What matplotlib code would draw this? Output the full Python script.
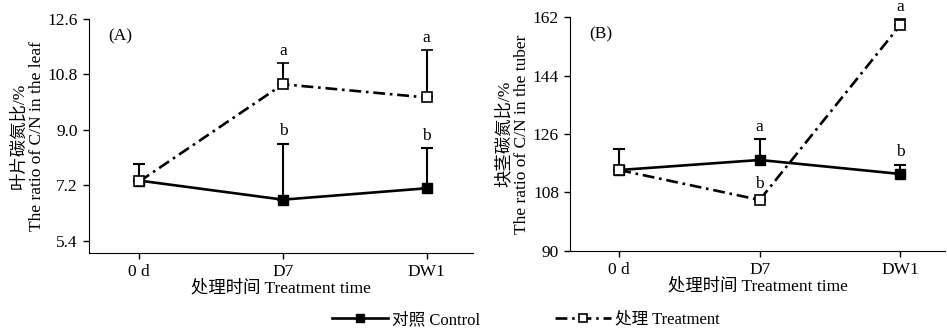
import matplotlib.pyplot as plt
import numpy as np

plt.rcParams['font.family'] = ['Liberation Serif', 'Noto Sans CJK SC']
plt.rcParams['axes.unicode_minus'] = False

days = ['0 d', 'D7', 'DW1']

# (A) leaf C/N
leaf_ctrl = [7.35, 6.73, 7.10]
leaf_ctrl_err = [0.54, 1.82, 1.31]
leaf_trt = [7.32, 10.48, 10.05]
leaf_trt_err = [0.0, 0.68, 1.55]
leaf_ctrl_lbl = ['', 'b', 'b']
leaf_trt_lbl = ['', 'a', 'a']

# (B) tuber C/N
tuber_ctrl = [114.9, 118.0, 113.7]
tuber_ctrl_err = [6.4, 6.5, 2.9]
tuber_trt = [114.9, 105.7, 159.5]
tuber_trt_err = [0.0, 0.0, 1.8]
tuber_ctrl_lbl = ['', 'a', 'b']
tuber_trt_lbl = ['', 'b', 'a']

fig = plt.figure(figsize=(9.47, 3.28), dpi=100)
axA = fig.add_axes([0.094, 0.229, 0.405, 0.713])
axB = fig.add_axes([0.602, 0.235, 0.396, 0.713])

x = np.arange(len(days))
dash = (0, (4.5, 1.8, 1, 1.8))


def panel(ax, ctrl, cerr, trt, terr, clbl, tlbl, ylim, yticks, ylab, tag):
    ax.errorbar(x, ctrl, yerr=[np.zeros(3), cerr], color='black', lw=1.9,
                marker='s', ms=7, mfc='black', mec='black',
                ecolor='black', elinewidth=1.5, capsize=4, capthick=1.5,
                zorder=3, label='对照 Control')
    ax.errorbar(x, trt, yerr=[np.zeros(3), terr], color='black', lw=1.9,
                ls=dash, marker='s', ms=7, mfc='white', mec='black',
                mew=1.2, ecolor='black', elinewidth=1.5, capsize=4,
                capthick=1.5, zorder=4, label='处理 Treatment')
    for vals, errs, lbls in ((ctrl, cerr, clbl), (trt, terr, tlbl)):
        for xi, v, e, t in zip(x, vals, errs, lbls):
            if not t:
                continue
            off = 3 if e > 0 else 6
            ax.annotate(t, (xi, v + e), xytext=(0, off), textcoords='offset points',
                        ha='center', va='bottom', fontsize=12.5, annotation_clip=False)
    ax.set_xlim(-0.35, 2.32)
    ax.set_ylim(*ylim)
    ax.set_yticks(yticks)
    ax.set_xticks(x)
    ax.set_xticklabels(days)
    ax.spines['top'].set_visible(False)
    ax.spines['right'].set_visible(False)
    ax.tick_params(direction='out', length=4, width=1, labelsize=12.5, pad=4)
    ax.set_xlabel('处理时间 Treatment time', fontsize=12.5, labelpad=0)
    ax.set_ylabel(ylab, fontsize=12.5, labelpad=2, linespacing=1.1)
    ax.text(0.05, 0.96, tag, transform=ax.transAxes, fontsize=12.5, va='top')


panel(axA, leaf_ctrl, leaf_ctrl_err, leaf_trt, leaf_trt_err, leaf_ctrl_lbl, leaf_trt_lbl,
      (5.0, 12.6), [5.4, 7.2, 9.0, 10.8, 12.6],
      '叶片碳氮比/%\nThe ratio of C/N in the leaf', '(A)')
axA.set_yticklabels(['5.4', '7.2', '9.0', '10.8', '12.6'])
panel(axB, tuber_ctrl, tuber_ctrl_err, tuber_trt, tuber_trt_err, tuber_ctrl_lbl, tuber_trt_lbl,
      (90, 162), [90, 108, 126, 144, 162],
      '块茎碳氮比/%\nThe ratio of C/N in the tuber', '(B)')

handles, labels = axA.get_legend_handles_labels()
handles = [h[0] for h in handles]
fig.legend(handles, labels, loc='center', bbox_to_anchor=(0.555, 0.025), ncol=2,
           frameon=False, fontsize=12, handlelength=3.4, columnspacing=4.5,
           handletextpad=0.2, markerscale=0.8)

fig.savefig('out.png', dpi=100)
